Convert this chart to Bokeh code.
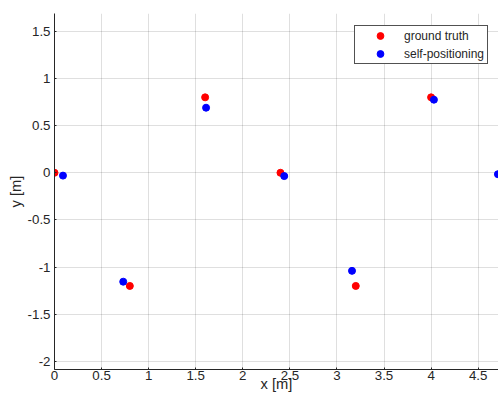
from bokeh.plotting import figure
from bokeh.models import Range1d, Legend, LegendItem, FixedTicker
from bokeh.embed import file_html
from bokeh.resources import INLINE

# data
gt_x = [0.0, 0.8, 1.6, 2.4, 3.2, 4.0, 4.8]
gt_y = [0.0, -1.2, 0.8, 0.0, -1.2, 0.8, 0.0]
sp_x = [0.09, 0.73, 1.61, 2.44, 3.16, 4.03, 4.71]
sp_y = [-0.03, -1.155, 0.69, -0.035, -1.04, 0.775, -0.015]

x_ticks = [0, 0.5, 1, 1.5, 2, 2.5, 3, 3.5, 4, 4.5]
x_tick_labels = ["0", "0.5", "1", "1.5", "2", "2.5", "3", "3.5", "4", "4.5"]
y_ticks = [-2, -1.5, -1, -0.5, 0, 0.5, 1, 1.5]
y_tick_labels = ["-2", "-1.5", "-1", "-0.5", "0", "0.5", "1", "1.5"]

FONT = "Liberation Sans"
DARK = "#262626"
Y0, Y1 = -2.086, 1.689

p = figure(width=498, height=394, output_backend="svg", toolbar_location=None,
           x_range=Range1d(0, 4.716), y_range=Range1d(Y0, Y1),
           min_border_left=54, min_border_right=0, min_border_top=13, min_border_bottom=25)
p.outline_line_color = None
p.background_fill_color = "white"
p.border_fill_color = "white"

for ax, ticks, labels in ((p.xaxis[0], x_ticks, x_tick_labels), (p.yaxis[0], y_ticks, y_tick_labels)):
    ax.ticker = FixedTicker(ticks=ticks)
    ax.major_label_overrides = {t: l for t, l in zip(ticks, labels)}
    ax.axis_line_color = DARK
    ax.axis_line_width = 1
    ax.major_tick_line_color = DARK
    ax.major_tick_in = 2
    ax.major_tick_out = 0
    ax.minor_tick_line_color = None
    ax.major_label_text_font = FONT
    ax.major_label_text_font_size = "13.3px"
    ax.major_label_text_color = DARK
    ax.axis_label_text_font = FONT
    ax.axis_label_text_font_size = "14.7px"
    ax.axis_label_text_font_style = "normal"
    ax.axis_label_text_color = DARK

p.xaxis[0].major_label_standoff = 1
p.xaxis[0].axis_label = "x [m]"
p.xaxis[0].axis_label_standoff = -7
p.yaxis[0].major_label_standoff = 4
p.yaxis[0].axis_label = "y [m]"
p.yaxis[0].axis_label_standoff = 1

for g in (p.xgrid[0], p.ygrid[0]):
    g.grid_line_color = DARK
    g.grid_line_alpha = 0.15
    g.grid_line_width = 1
p.xgrid[0].ticker = FixedTicker(ticks=x_ticks)
p.ygrid[0].ticker = FixedTicker(ticks=y_ticks)

r1 = p.scatter(gt_x, gt_y, size=7, color="#ff0000", marker="circle")
r2 = p.scatter(sp_x, sp_y, size=7, color="#0000ff", marker="circle")

legend = Legend(items=[LegendItem(label="ground truth", renderers=[r1]),
                       LegendItem(label="self-positioning", renderers=[r2])],
                location=(300, 305), padding=1, spacing=1, margin=0,
                glyph_width=48, glyph_height=17, label_height=17, label_width=82,
                label_standoff=0, label_text_font=FONT, label_text_font_size="12px",
                label_text_color=DARK, border_line_color=DARK, border_line_width=1,
                border_line_alpha=0.8, background_fill_color="white", background_fill_alpha=1)
p.add_layout(legend)

open("out.html", "w").write(file_html(p, INLINE))
